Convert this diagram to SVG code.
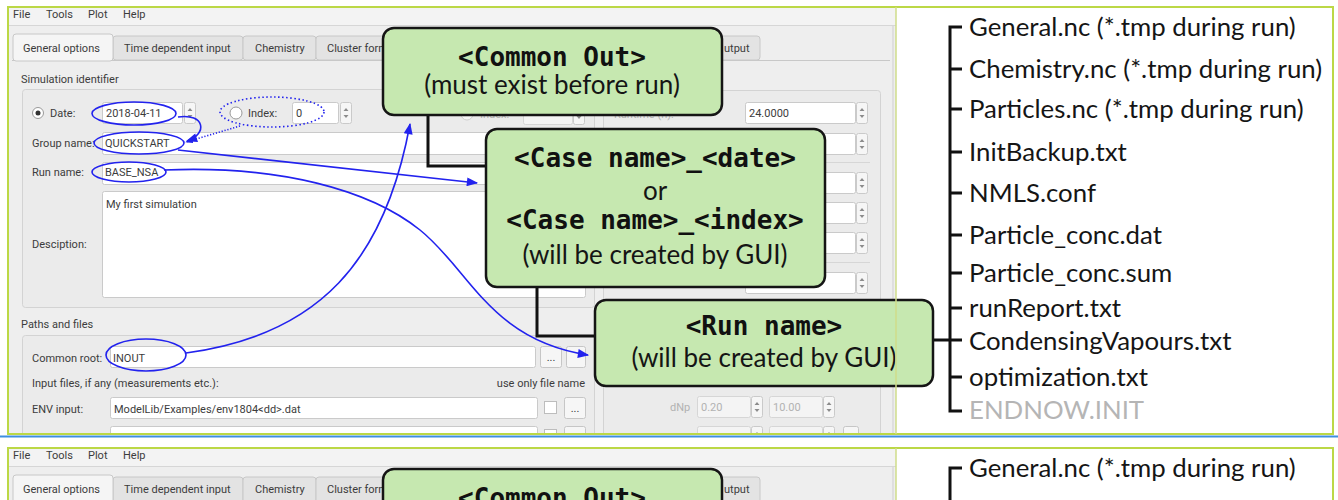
<svg xmlns="http://www.w3.org/2000/svg" xmlns:xlink="http://www.w3.org/1999/xlink" width="1338" height="500" viewBox="0 0 1338 500">
<style>
.gui{font-family:Roboto,"Liberation Sans",sans-serif;font-size:11px;fill:#3c3c3c}
.dis{fill:#b2b2b2}
.inp{fill:#ffffff;stroke:#cacaca;stroke-width:1}
.dinp{fill:#f4f4f4;stroke:#d6d6d6;stroke-width:1}
.grp{fill:#ebebeb;stroke:#d3d3d3;stroke-width:1}
.tab{fill:#e3e3e3;stroke:#c8c8c8;stroke-width:1}
.btn{fill:#f6f6f6;stroke:#c6c6c6;stroke-width:1}
.sep{stroke:#d6d6d6;stroke-width:1}
.box{fill:#c6e8b0;stroke:#151515;stroke-width:2.5}
.mono{font-family:"DejaVu Sans Mono","Liberation Mono",monospace;font-weight:bold;font-size:26px;fill:#111;text-anchor:middle}
.sans{font-family:Lato,"Open Sans",sans-serif;font-size:26px;fill:#151515;text-anchor:middle}
.tree{font-family:Lato,"Open Sans",sans-serif;font-size:25.8px;fill:#151515}
.faint{fill:#b5b5b5}
.blue{fill:none;stroke:#2222ee;stroke-width:1.6}
.conn{fill:none;stroke:#111;stroke-width:3}
.frame{fill:none;stroke:#bcd846;stroke-width:2}
</style>
<defs>
<symbol id="spin" viewBox="0 0 12 22"><rect x="0.5" y="0.5" width="11" height="21" rx="2" fill="#f6f6f6" stroke="#cacaca"/><path d="M3.5 9 L6 6 L8.5 9Z M3.5 13 L6 16 L8.5 13Z" fill="#8c8c8c"/></symbol>
<marker id="ab" viewBox="0 0 10 8" refX="9" refY="4" markerWidth="12" markerHeight="9" markerUnits="userSpaceOnUse" orient="auto"><path d="M0,0 L10,4 L0,8 Z" fill="#2222ee"/></marker>
<marker id="abs" viewBox="0 0 10 8" refX="9" refY="4" markerWidth="8" markerHeight="6" markerUnits="userSpaceOnUse" orient="auto"><path d="M0,0 L10,4 L0,8 Z" fill="#2222ee"/></marker>
<clipPath id="ctop"><rect x="9" y="8" width="887" height="425"/></clipPath>
<clipPath id="cbot"><rect x="9" y="448" width="887" height="52"/></clipPath>
</defs>
<rect x="0" y="0" width="1338" height="500" fill="#ffffff"/>

<!-- ============ TOP PANEL: GUI screenshot ============ -->
<g id="gui-top" clip-path="url(#ctop)">
<rect x="9" y="8" width="887" height="425" fill="#eeeeee"/>
<rect x="9" y="8" width="887" height="17" fill="#f3f3f3"/>
<line x1="9" y1="25.5" x2="896" y2="25.5" class="sep"/>
<text class="gui" x="13" y="18">File</text>
<text class="gui" x="46" y="18">Tools</text>
<text class="gui" x="88" y="18">Plot</text>
<text class="gui" x="123" y="18">Help</text>
<!-- tabs -->
<line x1="12" y1="60.5" x2="890" y2="60.5" stroke="#c8c8c8"/>
<rect x="113" y="36" width="130" height="24" rx="3" class="tab"/>
<rect x="243" y="36" width="73" height="24" rx="3" class="tab"/>
<rect x="316" y="36" width="80" height="24" rx="3" class="tab"/>
<rect x="690" y="36" width="70" height="24" rx="3" class="tab"/>
<rect x="13" y="34" width="100" height="27" rx="3" fill="#f5f5f5" stroke="#c8c8c8"/>
<text class="gui" x="23" y="52">General options</text>
<text class="gui" x="124" y="52">Time dependent input</text>
<text class="gui" x="255" y="52">Chemistry</text>
<text class="gui" x="327" y="52">Cluster form</text>
<text class="gui" x="724" y="52">utput</text>
<!-- Simulation identifier -->
<text class="gui" x="21" y="83">Simulation identifier</text>
<rect x="22.5" y="89.5" width="572" height="218" rx="3" class="grp"/>
<circle cx="38" cy="113" r="5.5" fill="#fff" stroke="#9a9a9a"/>
<circle cx="38" cy="113" r="2.5" fill="#333"/>
<text class="gui" x="50" y="117">Date:</text>
<rect x="102.5" y="102.5" width="80" height="21" rx="2" class="inp"/>
<text class="gui" x="106" y="117">2018-04-11</text>
<use xlink:href="#spin" x="184" y="102" width="12" height="22"/>
<circle cx="236" cy="113" r="6" fill="#fff" stroke="#9a9a9a"/>
<text class="gui" x="248" y="117">Index:</text>
<rect x="292.5" y="102.5" width="46" height="21" rx="2" class="inp"/>
<text class="gui" x="296" y="117">0</text>
<use xlink:href="#spin" x="340" y="102" width="12" height="22"/>
<circle cx="467" cy="114" r="6" fill="#f6f6f6" stroke="#cfcfcf"/>
<text class="gui dis" x="480" y="118">Index:</text>
<rect x="523.5" y="103.5" width="49" height="21" rx="2" class="dinp"/>
<use xlink:href="#spin" x="573" y="103" width="12" height="22"/>
<text class="gui" x="32" y="147">Group name:</text>
<rect x="102.5" y="132.5" width="483" height="22" rx="2" class="inp"/>
<text class="gui" x="105" y="147">QUICKSTART</text>
<text class="gui" x="32" y="176">Run name:</text>
<rect x="102.5" y="162.5" width="483" height="22" rx="2" class="inp"/>
<text class="gui" x="105" y="176">BASE_NSA</text>
<rect x="102.5" y="191.5" width="483" height="106" rx="2" class="inp"/>
<text class="gui" x="106" y="208">My first simulation</text>
<text class="gui" x="32" y="248">Desciption:</text>
<!-- right column group -->
<rect x="603.5" y="90.5" width="277" height="360" rx="3" class="grp"/>
<text class="gui dis" x="614" y="118">Runtime (h):</text>
<rect x="745.5" y="102.5" width="110" height="21" rx="2" class="inp"/>
<text class="gui" x="749" y="117">24.0000</text>
<use xlink:href="#spin" x="856" y="102" width="12" height="22"/>
<rect x="745.5" y="133.5" width="110" height="21" rx="2" class="inp"/>
<use xlink:href="#spin" x="856" y="133" width="12" height="22"/>
<line x1="612" y1="162.5" x2="870" y2="162.5" class="sep"/>
<rect x="745.5" y="172.5" width="110" height="21" rx="2" class="inp"/>
<use xlink:href="#spin" x="856" y="172" width="12" height="22"/>
<rect x="745.5" y="202.5" width="110" height="21" rx="2" class="inp"/>
<use xlink:href="#spin" x="856" y="202" width="12" height="22"/>
<rect x="745.5" y="232.5" width="110" height="21" rx="2" class="inp"/>
<use xlink:href="#spin" x="856" y="232" width="12" height="22"/>
<line x1="612" y1="262.5" x2="870" y2="262.5" class="sep"/>
<rect x="745.5" y="272.5" width="110" height="21" rx="2" class="inp"/>
<use xlink:href="#spin" x="856" y="272" width="12" height="22"/>
<text class="gui dis" x="670" y="411">dNp</text>
<rect x="697.5" y="396.5" width="53" height="21" rx="2" class="dinp"/>
<text class="gui dis" x="701" y="411">0.20</text>
<use xlink:href="#spin" x="751" y="396" width="12" height="22"/>
<rect x="769.5" y="396.5" width="53" height="21" rx="2" class="dinp"/>
<text class="gui dis" x="773" y="411">10.00</text>
<use xlink:href="#spin" x="823" y="396" width="12" height="22"/>
<rect x="697.5" y="426.5" width="53" height="21" rx="2" class="dinp"/>
<use xlink:href="#spin" x="751" y="426" width="12" height="22"/>
<rect x="769.5" y="426.5" width="53" height="21" rx="2" class="dinp"/>
<use xlink:href="#spin" x="823" y="426" width="12" height="22"/>
<rect x="843.5" y="426.5" width="15" height="21" rx="2" class="btn"/>
<line x1="893" y1="26" x2="893" y2="433" stroke="#cfcfcf"/>
<!-- Paths and files -->
<text class="gui" x="21" y="328">Paths and files</text>
<rect x="22.5" y="335.5" width="572" height="120" rx="3" class="grp"/>
<text class="gui" x="32" y="362">Common root:</text>
<rect x="110.5" y="346.5" width="425" height="21" rx="2" class="inp"/>
<text class="gui" x="113" y="362">INOUT</text>
<rect x="540.5" y="346.5" width="21" height="21" rx="2" class="btn"/>
<text class="gui" x="551" y="361" text-anchor="middle" font-size="9">...</text>
<rect x="566.5" y="346.5" width="19" height="21" rx="2" class="btn"/>
<text class="gui" x="32" y="387">Input files, if any (measurements etc.):</text>
<text class="gui" x="585" y="387" text-anchor="end">use only file name</text>
<text class="gui" x="32" y="413">ENV input:</text>
<rect x="110.5" y="397.5" width="427" height="21" rx="2" class="inp"/>
<text class="gui" x="114" y="413">ModelLib/Examples/env1804&lt;dd&gt;.dat</text>
<rect x="544.5" y="401.5" width="12" height="12" fill="#fff" stroke="#bdbdbd"/>
<rect x="564.5" y="397.5" width="21" height="21" rx="2" class="btn"/>
<text class="gui" x="575" y="412" text-anchor="middle" font-size="9">...</text>
<rect x="110.5" y="426.5" width="427" height="21" rx="2" class="inp"/>
<rect x="544.5" y="429.5" width="12" height="12" fill="#fff" stroke="#bdbdbd"/>
<rect x="564.5" y="426.5" width="21" height="21" rx="2" class="btn"/>
</g>

<!-- blue highlight ellipses -->
<g id="highlights">
<ellipse cx="134" cy="113.5" rx="42" ry="11.5" class="blue"/>
<ellipse cx="272" cy="112" rx="52" ry="15" class="blue" stroke-dasharray="1.5 2.5" stroke-width="1.8"/>
<ellipse cx="139" cy="143" rx="45" ry="11" class="blue"/>
<ellipse cx="129" cy="172" rx="37" ry="10" class="blue"/>
<ellipse cx="146" cy="355" rx="40" ry="16" class="blue"/>
</g>

<!-- ============ connectors ============ -->
<g id="connectors">
<path class="conn" d="M428,115 V166 H486"/>
<path class="conn" d="M537,287 V336 H595"/>
<path class="conn" d="M933,340 H962"/>
<path class="conn" d="M962,27 H950 V411 H962"/>
<path class="conn" d="M950,69 H962 M950,109 H962 M950,152 H962 M950,193 H962 M950,235 H962 M950,273 H962 M950,308 H962 M950,377 H962"/>
<path class="blue" d="M178,117 C205,113 208,134 187,141" marker-end="url(#ab)"/>
<path class="blue" d="M240,126 L186,142" stroke-dasharray="1.2 1.8" stroke-width="1.1" marker-end="url(#abs)"/>
<path class="blue" d="M178,150 L477,183" marker-end="url(#ab)"/>
<path class="blue" d="M164,170 C280,165 370,190 420,230 C470,270 490,340 588,355" marker-end="url(#ab)"/>
<path class="blue" d="M186,353 C320,335 385,260 410,124" marker-end="url(#ab)"/>
</g>

<!-- ============ nodes ============ -->
<g id="node-common-out">
<rect x="383" y="28" width="339" height="87" rx="11" class="box"/>
<text class="mono" x="552" y="66">&lt;Common Out&gt;</text>
<text class="sans" x="552" y="94">(must exist before run)</text>
</g>
<g id="node-case-name">
<rect x="486" y="129" width="339" height="158" rx="11" class="box"/>
<text class="mono" x="655" y="167">&lt;Case name&gt;_&lt;date&gt;</text>
<text class="sans" x="655" y="200">or</text>
<text class="mono" x="655" y="229">&lt;Case name&gt;_&lt;index&gt;</text>
<text class="sans" x="655" y="264">(will be created by GUI)</text>
</g>
<g id="node-run-name">
<rect x="595" y="300" width="338" height="86" rx="11" class="box"/>
<text class="mono" x="764" y="335">&lt;Run name&gt;</text>
<text class="sans" x="764" y="367">(will be created by GUI)</text>
</g>
<g id="node-files">
<text class="tree" x="969" y="36">General.nc (*.tmp during run)</text>
<text class="tree" x="969" y="78">Chemistry.nc (*.tmp during run)</text>
<text class="tree" x="969" y="118">Particles.nc (*.tmp during run)</text>
<text class="tree" x="969" y="161">InitBackup.txt</text>
<text class="tree" x="969" y="202">NMLS.conf</text>
<text class="tree" x="969" y="244">Particle_conc.dat</text>
<text class="tree" x="969" y="282">Particle_conc.sum</text>
<text class="tree" x="969" y="317">runReport.txt</text>
<text class="tree" x="969" y="350">CondensingVapours.txt</text>
<text class="tree" x="969" y="386">optimization.txt</text>
<text class="tree faint" x="969" y="419">ENDNOW.INIT</text>
</g>

<!-- frames -->
<rect x="8" y="7" width="1325" height="427" class="frame"/>
<line x1="896" y1="7" x2="896" y2="434" stroke="#cfdc8a" stroke-width="1.5"/>
<line x1="0" y1="436.5" x2="1338" y2="436.5" stroke="#3f8fdf" stroke-width="2"/>

<!-- ============ BOTTOM PANEL (repeated, cut off) ============ -->
<g id="gui-bottom" clip-path="url(#cbot)">
<rect x="9" y="448" width="887" height="52" fill="#eeeeee"/>
<rect x="9" y="448" width="887" height="18" fill="#f3f3f3"/>
<line x1="9" y1="466.5" x2="896" y2="466.5" class="sep"/>
<text class="gui" x="13" y="459">File</text>
<text class="gui" x="46" y="459">Tools</text>
<text class="gui" x="88" y="459">Plot</text>
<text class="gui" x="123" y="459">Help</text>
<rect x="113" y="477" width="130" height="30" rx="3" class="tab"/>
<rect x="243" y="477" width="73" height="30" rx="3" class="tab"/>
<rect x="316" y="477" width="80" height="30" rx="3" class="tab"/>
<rect x="690" y="477" width="70" height="30" rx="3" class="tab"/>
<rect x="13" y="475" width="100" height="32" rx="3" fill="#f5f5f5" stroke="#c8c8c8"/>
<text class="gui" x="23" y="493">General options</text>
<text class="gui" x="124" y="493">Time dependent input</text>
<text class="gui" x="255" y="493">Chemistry</text>
<text class="gui" x="327" y="493">Cluster form</text>
<text class="gui" x="724" y="493">utput</text>
<line x1="893" y1="467" x2="893" y2="500" stroke="#cfcfcf"/>
</g>
<g id="node-common-out-2">
<rect x="383" y="469" width="339" height="87" rx="11" class="box"/>
<text class="mono" x="552" y="507">&lt;Common Out&gt;</text>
</g>
<g id="node-files-2">
<path class="conn" d="M962,468 H950 V500"/>
<text class="tree" x="969" y="477">General.nc (*.tmp during run)</text>
</g>
<path d="M8,500 V448 H1333 V500" class="frame"/>
<line x1="896" y1="448" x2="896" y2="500" stroke="#cfdc8a" stroke-width="1.5"/>
</svg>
